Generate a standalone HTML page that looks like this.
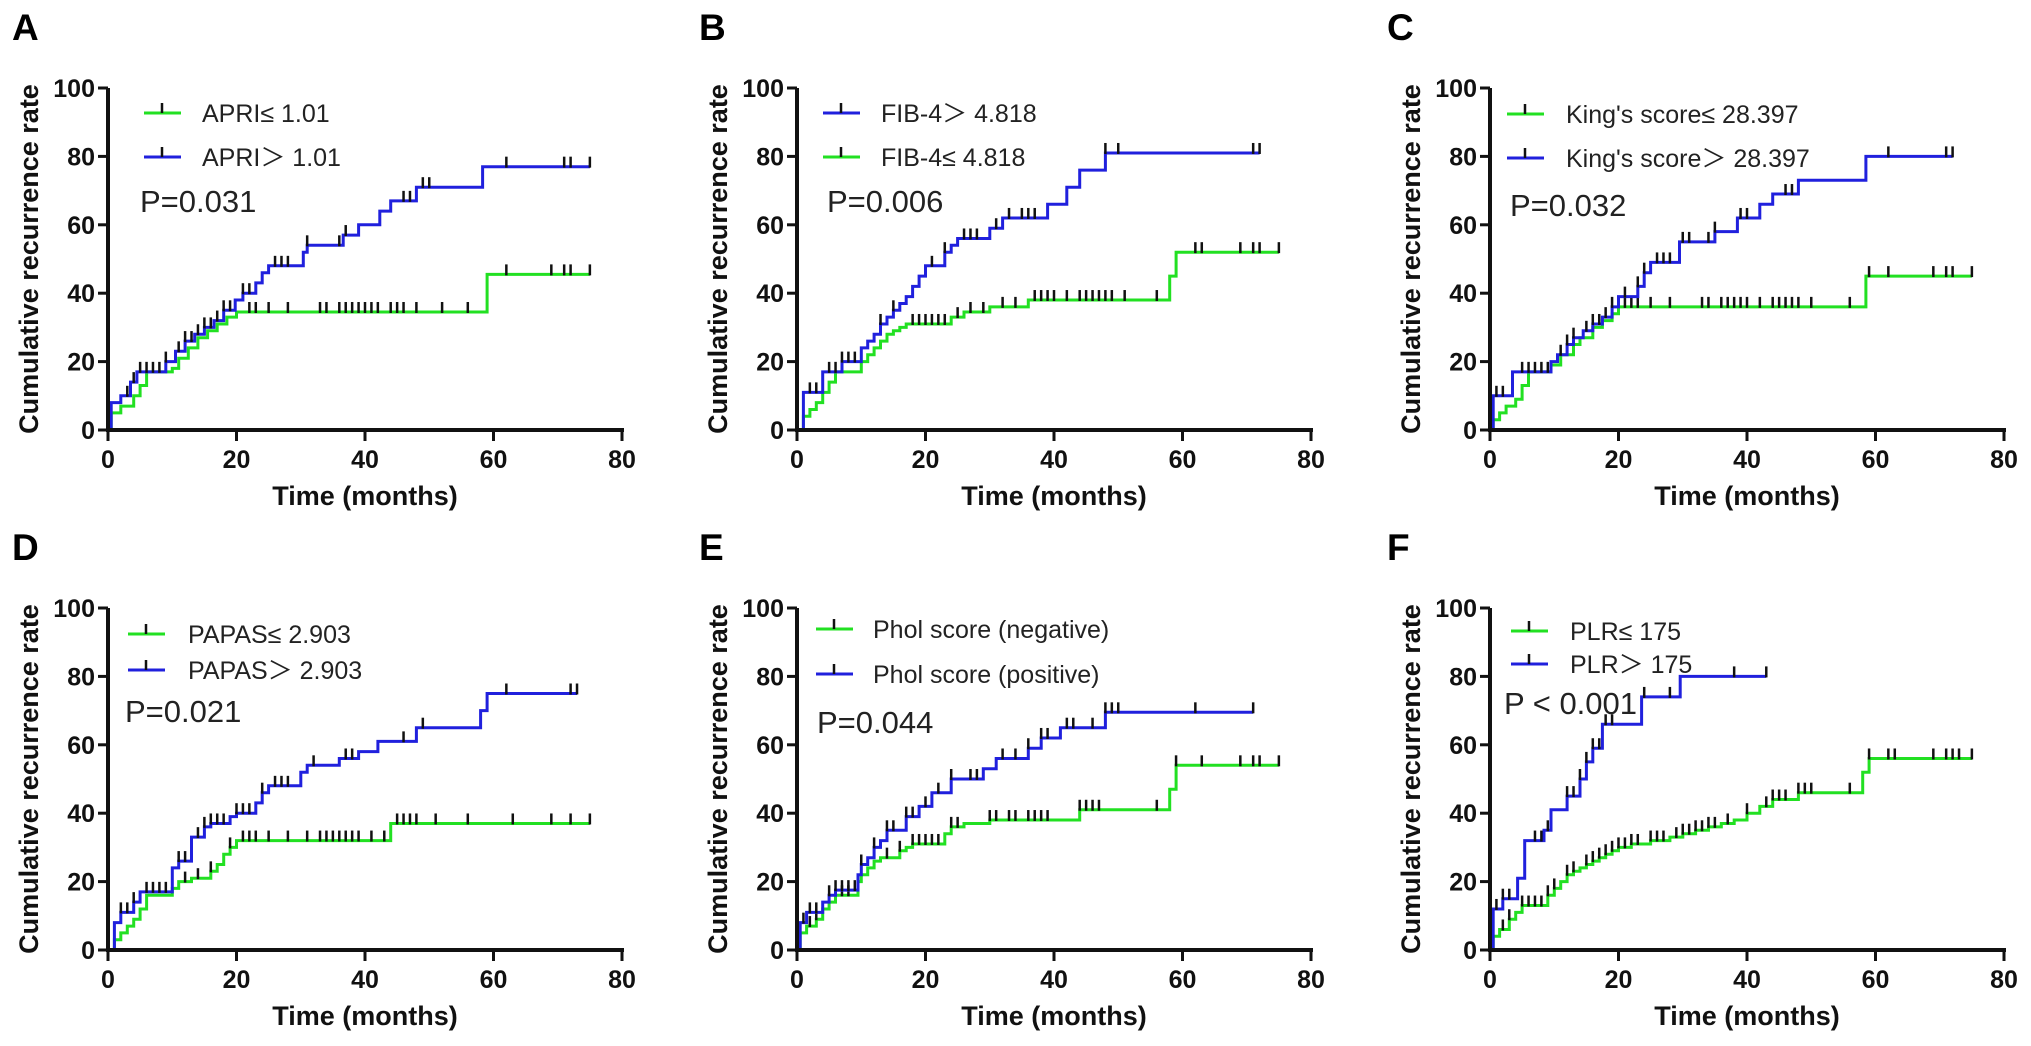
<!DOCTYPE html>
<html><head><meta charset="utf-8"><style>
html,body{margin:0;padding:0;background:#fff;}
svg{display:block;}
text{font-family:"Liberation Sans",Arial,sans-serif;}
</style></head><body>
<svg id="fig" width="2031" height="1046" viewBox="0 0 2031 1046" xmlns="http://www.w3.org/2000/svg"></svg>
<script>
// ---- data ----
const panelLetters = ["A","B","C","D","E","F"];
const pValues = ["P=0.031","P=0.006","P=0.032","P=0.021","P=0.044","P < 0.001"];
const yTicks = [0,20,40,60,80,100];
const xTicks = [0,20,40,60,80];

const aGreenT = [0.5,2,4,5,6,10,11,12.5,14,15.5,17,18.5,20,59];
const aGreenV = [5,7,10,13,17,18,21,24,27,29,31,33,34.5,45.5];
const aGreenC = [22,23,25,28,33,34,36,37,38,39,40,41,42,44,45,46,48,52,56,62,69,71,72,75];
const aBlueT = [0.5,2,3.5,4.5,9,10.5,12,13.5,15,16.5,18,19.8,21,23,24,25,30.4,31,36.6,39,42.3,44,48,58.3];
const aBlueV = [8,10,14,17,20,23,26,28,30,32,35,38,40,43,46,48,52,54,57,60,64,67,71,77];
const aBlueC = [3,4,5,6,7,8,9,11,12,13,14,15,16,17,18,19,21,22,26,27,28,31,36,37,46,47,49,50,62,71,72,75];

const bGreenT = [1,2,3,4,5,6,10,11,12,13,14,15,16,17,24,26,30,36,58,59];
const bGreenV = [4,6,8,11,14,17,20,22,24,26,28,29,30,31,33,34.5,36,38,45,52];
const bGreenC = [18,19,20,21,22,23,25,27,29,32,34,37,38,39,40,42,44,45,46,47,48,49,51,56,62,63,69,71,72,75];
const bBlueT = [1,4,7,10,11,12,13,14,15,16,17,18,19,20,23,24,25,30,32,39,42,44,48];
const bBlueV = [11,17,20,24,26,28,31,33,35,37,39,42,45,48,52,54,56,59,62,66,71,76,81];
const bBlueC = [2,3,5,6,7,8,9,13,15,21,23,26,27,28,31,33,35,36,37,48,50,71,72];

const cGreenT = [0.5,1.5,2.5,4,5,6,9.5,11,13,14,16,17.5,19,20,58.5];
const cGreenV = [3,5,7,9,13,17,19,22,25,27,30,32,34,36,45];
const cGreenC = [21,22,23,25,28,33,34,36,37,38,39,40,42,44,45,46,47,48,50,56,59,62,69,71,72,75];
const cBlueT = [0.5,3.5,9.5,10.5,12,13,14.5,16,17.5,19,20,23,24,25,29.5,35,38.5,42,44,48,58.5];
const cBlueV = [10,17,20,22,25,27,29,31,33,36,39,42,46,49,55,58,62,66,69,73,80];
const cBlueC = [1,2,5,6,7,8,9,11,12,13,15,16,17,18,19,21,23,24,26,27,28,30,31,34,35,39,40,46,47,62,71,72];

const dGreenT = [1,2,3,4,5,6,10,11,13,16,17,18,19,20,44];
const dGreenV = [3,5,7,9,12,16,18,20,21,23,25,28,30,32,37];
const dGreenC = [12,14,16,19,21,22,23,25,28,31,33,34,35,36,37,38,39,41,43,45,46,47,48,51,56,63,69,72,75];
const dBlueT = [1,2,4,5,10,11,13,15,16,19,20,23,24,25,30,31,36,39,42,48,58,59];
const dBlueV = [8,11,14,17,24,26,33,36,37,39,40,43,46,48,52,54,56,58,61,65,70,75];
const dBlueC = [2,3,4,6,7,8,9,11,12,14,15,16,17,18,20,21,22,24,26,27,28,32,37,38,46,49,62,72,73];

const eGreenT = [0.5,1.5,3,4,5,6,9.5,10,11,12,13,16,17,18,23,24,26,30,44,58,59];
const eGreenV = [5,7,9,12,14,16,20,22,24,26,27,29,30,31,34,36,37,38,41,47,54];
const eGreenC = [2,3,7,8,14,16,18,19,20,21,22,24,25,30,31,33,34,36,37,38,39,44,45,46,47,56,59,63,69,71,72,75];
const eBlueT = [0.5,1.5,4,5,6,9.5,10,11,12,13,14,17,19,21,24,29,31,36,38,41,48];
const eBlueV = [8,11,14,16,17.5,22,25,27,30,32,35,39,42,46,50,53,56,59,62,65,69.5];
const eBlueC = [1,2,3,5,6,7,8,9,10,12,14,15,17,18,20,22,24,27,28,32,34,36,38,39,42,43,46,48,49,50,62,71];

const fGreenT = [0.5,1.5,3,4,5,9,10,11,12,13,14,15,16,17,18,19,20,22,25,28,30,32,34,36,38,40,42,44,48,58,59];
const fGreenV = [4,6,9,11,13,16,18,20,22,23,24,25,26,27,28,29,30,31,32,33,34,35,36,37,38,40,42,44,46,52,56];
const fGreenC = [2,3,5,6,7,8,9,10,12,13,15,16,17,18,19,20,21,22,23,25,26,27,29,30,31,32,33,34,35,37,40,43,44,45,46,48,49,50,56,59,62,63,69,71,72,73,75];
const fBlueT = [0.5,2,4.3,5.4,8.4,9.5,12,14,15,16,17.5,23.6,29.6];
const fBlueV = [12,15,21,32,35,41,45,50,55,59,66,74,80];
const fBlueC = [1,2,3,7,8,9,12,13,14,15,16,17,18,19,24,28,38,43];

const endTimes = [[75,75],[75,72],[75,72],[75,73],[75,71],[75,43]];
const legendLabels = [
  ["APRI\u2264 1.01","APRI\uFF1E 1.01"],
  ["FIB-4\uFF1E 4.818","FIB-4\u2264 4.818"],
  ["King's score\u2264 28.397","King's score\uFF1E 28.397"],
  ["PAPAS\u2264 2.903","PAPAS\uFF1E 2.903"],
  ["Phol score (negative)","Phol score (positive)"],
  ["PLR\u2264 175","PLR\uFF1E 175"]
];

// ---- layout ----
const GREEN="#22e022", BLUE="#2020dd";
const colX=[108,797,1490], rowY=[430,950], PW=514, PH=342;
const letterX=[12,699,1387], letterY=[40,560];
const legendCfg=[
  {lx:36,tx:94,y1:25,y2:69,px:32,py:124,fs:25},
  {lx:26,tx:84,y1:25,y2:69,px:30,py:124,fs:25},
  {lx:17,tx:76,y1:26,y2:70,px:20,py:128,fs:25},
  {lx:20,tx:80,y1:26,y2:62,px:17,py:114,fs:25},
  {lx:19,tx:76,y1:21,y2:66,px:20,py:125,fs:25},
  {lx:21,tx:80,y1:23,y2:56,px:14,py:106,fs:25}
];
const series=[
  [[aGreenT,aGreenV,aGreenC,GREEN],[aBlueT,aBlueV,aBlueC,BLUE]],
  [[bGreenT,bGreenV,bGreenC,GREEN],[bBlueT,bBlueV,bBlueC,BLUE]],
  [[cGreenT,cGreenV,cGreenC,GREEN],[cBlueT,cBlueV,cBlueC,BLUE]],
  [[dGreenT,dGreenV,dGreenC,GREEN],[dBlueT,dBlueV,dBlueC,BLUE]],
  [[eGreenT,eGreenV,eGreenC,GREEN],[eBlueT,eBlueV,eBlueC,BLUE]],
  [[fGreenT,fGreenV,fGreenC,GREEN],[fBlueT,fBlueV,fBlueC,BLUE]]
];
const legendColors=[[GREEN,BLUE],[BLUE,GREEN],[GREEN,BLUE],[GREEN,BLUE],[GREEN,BLUE],[GREEN,BLUE]];

const svg=document.getElementById('fig');
const NS="http://www.w3.org/2000/svg";
function mk(tag,attrs,parent){const e=document.createElementNS(NS,tag);for(const k in attrs)e.setAttribute(k,attrs[k]);(parent||svg).appendChild(e);return e;}
function valAt(T,V,t){let v=0;for(let i=0;i<T.length;i++){if(T[i]<=t)v=V[i];}return v;}

for(let p=0;p<6;p++){
  const c=p%3, r=Math.floor(p/3);
  const x0=colX[c], y0=rowY[r];
  const sx=t=>x0+t*PW/80, sy=v=>y0-v*PH/100;
  const g=mk('g',{});
  
  
  const L=mk('text',{x:letterX[c],y:letterY[r],'font-size':37,'font-weight':'bold',fill:'#000'},g);
  L.textContent=panelLetters[p];
  
  
  for(let s=0;s<2;s++){
    const [T,V,C,col]=series[p][s];
    let d=`M${sx(0)},${sy(0)}`;
    for(let i=0;i<T.length;i++){d+=` H${sx(T[i]).toFixed(1)} V${sy(V[i]).toFixed(1)}`;}
    d+=` H${sx(endTimes[p][s]).toFixed(1)}`;
    const path=mk('path',{d:d,fill:'none',stroke:col,'stroke-width':3},g);
    
    
    for(const t of C){
      const yy=sy(valAt(T,V,t));
      const tk=mk('line',{x1:sx(t),x2:sx(t),y1:yy+1,y2:yy-10,stroke:'#111','stroke-width':2.5},g);
      
      
    }
  }
  const ya=mk('line',{x1:x0,x2:x0,y1:y0+2,y2:sy(100),stroke:'#111','stroke-width':4},g);
  
  
  const xa=mk('line',{x1:x0-2,x2:sx(80)+2,y1:y0,y2:y0,stroke:'#111','stroke-width':4},g);
  
  
  for(const v of yTicks){
    mk('line',{x1:x0-10,x2:x0,y1:sy(v),y2:sy(v),stroke:'#111','stroke-width':3},g);
    const tl=mk('text',{x:x0-13,y:sy(v)+9,'font-size':25,'font-weight':'bold','text-anchor':'end',fill:'#111'},g);
    tl.textContent=v;
    
    
  }
  for(const t of xTicks){
    mk('line',{x1:sx(t),x2:sx(t),y1:y0,y2:y0+11,stroke:'#111','stroke-width':3},g);
    const tl=mk('text',{x:sx(t),y:y0+38,'font-size':25,'font-weight':'bold','text-anchor':'middle',fill:'#111'},g);
    tl.textContent=t;
    
    
  }
  const xt=mk('text',{x:sx(40),y:y0+75,'font-size':27,'font-weight':'bold','text-anchor':'middle',fill:'#111'},g);
  xt.textContent='Time (months)';
  
  
  const ytx=x0-80, yty=sy(50);
  const yt=mk('text',{x:ytx,y:yty,'font-size':27,'font-weight':'bold','text-anchor':'middle',fill:'#111',transform:`rotate(-90 ${ytx} ${yty})`,dy:10},g);
  yt.textContent='Cumulative recurrence rate';
  
  
  const cfg=legendCfg[p], top=sy(100);
  [cfg.y1,cfg.y2].forEach((dy,i)=>{
    const yy=top+dy, col=legendColors[p][i];
    const lg=mk('g',{},g);
    
    
    mk('line',{x1:x0+cfg.lx,x2:x0+cfg.lx+37,y1:yy,y2:yy,stroke:col,'stroke-width':3},lg);
    mk('line',{x1:x0+cfg.lx+18,x2:x0+cfg.lx+18,y1:yy,y2:yy-10,stroke:'#111','stroke-width':2.5},lg);
    const tx=mk('text',{x:x0+cfg.tx,y:yy+9,'font-size':cfg.fs,fill:'#222'},lg);
    tx.textContent=legendLabels[p][i];
  });
  const pt=mk('text',{x:x0+cfg.px,y:top+cfg.py,'font-size':31,fill:'#222'},g);
  pt.textContent=pValues[p];
  
  
}
</script>
</body></html>
